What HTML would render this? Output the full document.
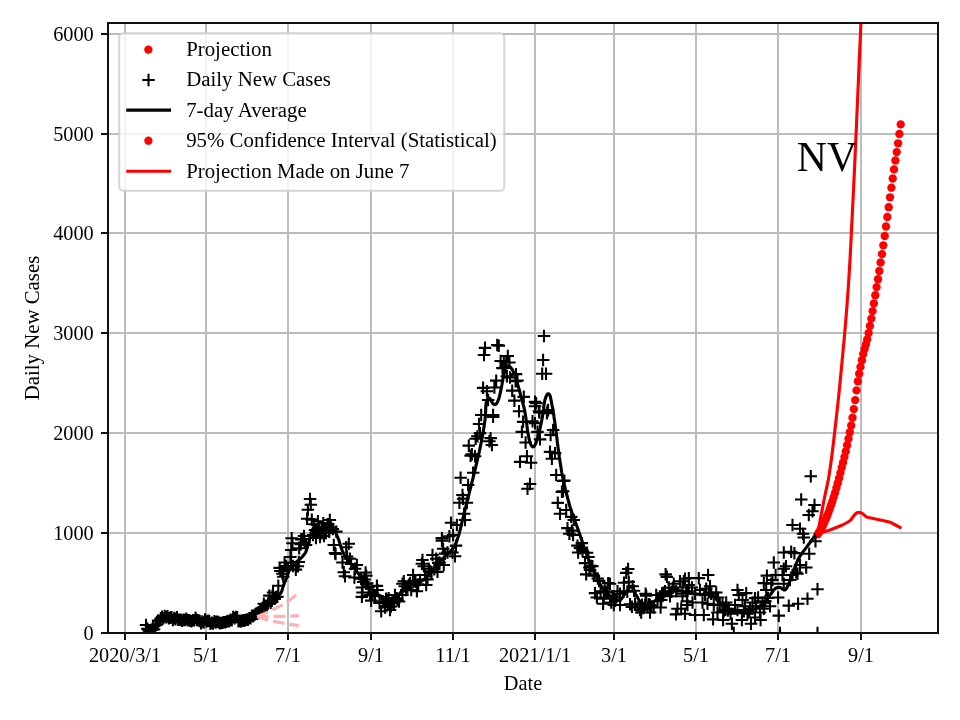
<!DOCTYPE html><html><head><meta charset="utf-8"><title>NV</title><style>html,body{margin:0;padding:0;background:#fff}svg{display:block}text{font-family:"Liberation Serif",serif;fill:#000}svg{will-change:transform;transform:translateZ(0)}</style></head><body>
<svg width="960" height="720" viewBox="0 0 960 720">
<rect width="960" height="720" fill="#fff"/>
<g stroke="#bcbcbc" stroke-width="2" fill="none">
<path d="M125 23V633"/>
<path d="M206 23V633"/>
<path d="M288 23V633"/>
<path d="M371 23V633"/>
<path d="M453 23V633"/>
<path d="M535 23V633"/>
<path d="M614 23V633"/>
<path d="M696 23V633"/>
<path d="M778 23V633"/>
<path d="M861 23V633"/>
<path d="M108 633H938"/>
<path d="M108 533H938"/>
<path d="M108 433H938"/>
<path d="M108 333H938"/>
<path d="M108 233H938"/>
<path d="M108 134H938"/>
<path d="M108 34H938"/>
</g>
<!--DATA-->
<defs><clipPath id="ax"><rect x="108" y="23" width="830" height="610"/></clipPath></defs>
<g clip-path="url(#ax)">
<g fill="#f00"><circle cx="817.6" cy="534.4" r="4.17"/><circle cx="819.0" cy="532.4" r="4.17"/><circle cx="820.3" cy="530.2" r="4.17"/><circle cx="821.7" cy="527.8" r="4.17"/><circle cx="823.0" cy="525.2" r="4.17"/><circle cx="824.3" cy="522.4" r="4.17"/><circle cx="825.7" cy="519.4" r="4.17"/><circle cx="827.0" cy="516.2" r="4.17"/><circle cx="828.4" cy="512.7" r="4.17"/><circle cx="829.7" cy="509.1" r="4.17"/><circle cx="831.0" cy="505.3" r="4.17"/><circle cx="832.4" cy="501.3" r="4.17"/><circle cx="833.7" cy="497.1" r="4.17"/><circle cx="835.1" cy="492.6" r="4.17"/><circle cx="836.4" cy="488.0" r="4.17"/><circle cx="837.7" cy="483.2" r="4.17"/><circle cx="839.1" cy="478.2" r="4.17"/><circle cx="840.4" cy="472.9" r="4.17"/><circle cx="841.8" cy="467.5" r="4.17"/><circle cx="843.1" cy="462.4" r="4.17"/><circle cx="844.4" cy="457.1" r="4.17"/><circle cx="845.8" cy="451.4" r="4.17"/><circle cx="847.1" cy="445.2" r="4.17"/><circle cx="848.5" cy="438.8" r="4.17"/><circle cx="849.8" cy="432.3" r="4.17"/><circle cx="851.2" cy="425.5" r="4.17"/><circle cx="852.5" cy="417.7" r="4.17"/><circle cx="853.8" cy="409.1" r="4.17"/><circle cx="855.2" cy="400.1" r="4.17"/><circle cx="856.5" cy="390.4" r="4.17"/><circle cx="857.9" cy="381.3" r="4.17"/><circle cx="859.2" cy="373.7" r="4.17"/><circle cx="860.5" cy="366.9" r="4.17"/><circle cx="861.9" cy="360.2" r="4.17"/><circle cx="863.2" cy="354.1" r="4.17"/><circle cx="864.6" cy="348.9" r="4.17"/><circle cx="865.9" cy="344.4" r="4.17"/><circle cx="867.2" cy="339.4" r="4.17"/><circle cx="868.6" cy="333.1" r="4.17"/><circle cx="869.9" cy="326.0" r="4.17"/><circle cx="871.3" cy="318.6" r="4.17"/><circle cx="872.6" cy="311.1" r="4.17"/><circle cx="873.9" cy="303.4" r="4.17"/><circle cx="875.3" cy="295.2" r="4.17"/><circle cx="876.6" cy="287.1" r="4.17"/><circle cx="878.0" cy="279.2" r="4.17"/><circle cx="879.3" cy="271.0" r="4.17"/><circle cx="880.6" cy="262.5" r="4.17"/><circle cx="882.0" cy="254.1" r="4.17"/><circle cx="883.3" cy="245.3" r="4.17"/><circle cx="884.7" cy="236.0" r="4.17"/><circle cx="886.0" cy="226.5" r="4.17"/><circle cx="887.3" cy="217.0" r="4.17"/><circle cx="888.7" cy="207.2" r="4.17"/><circle cx="890.0" cy="197.3" r="4.17"/><circle cx="891.4" cy="187.7" r="4.17"/><circle cx="892.7" cy="178.5" r="4.17"/><circle cx="894.0" cy="169.4" r="4.17"/><circle cx="895.4" cy="160.5" r="4.17"/><circle cx="896.7" cy="152.1" r="4.17"/><circle cx="898.1" cy="143.3" r="4.17"/><circle cx="899.4" cy="134.0" r="4.17"/><circle cx="900.7" cy="124.4" r="4.17"/></g>
<path d="M257.5 603.8h12.5M263.8 597.5v12.5M263.1 595.6h12.5M269.4 589.4v12.5M266.8 592.5h12.5M273.0 586.2v12.5M266.2 595.7h12.5M272.5 589.5v12.5M272.1 585.8h12.5M278.3 579.5v12.5M273.4 567.9h12.5M279.6 561.6v12.5M274.1 571.0h12.5M280.4 564.8v12.5M276.2 573.8h12.5M282.5 567.5v12.5M277.1 576.7h12.5M283.3 570.5v12.5M278.4 562.5h12.5M284.6 556.2v12.5M284.1 557.0h12.5M290.4 550.8v12.5M285.0 550.0h12.5M291.2 543.8v12.5M286.2 543.2h12.5M292.5 537.0v12.5M292.5 562.0h12.5M298.8 555.8v12.5M291.6 566.2h12.5M297.9 560.0v12.5M289.6 569.6h12.5M295.8 563.4v12.5M279.8 566.0h12.5M286.0 559.8v12.5M281.8 569.0h12.5M288.0 562.8v12.5M284.8 563.0h12.5M291.0 556.8v12.5M286.8 566.0h12.5M293.0 559.8v12.5M303.8 499.0h12.5M310.0 492.8v12.5M304.6 504.8h12.5M310.8 498.6v12.5M301.6 509.8h12.5M307.9 503.6v12.5M300.9 518.8h12.5M307.1 512.5v12.5M305.6 519.6h12.5M311.8 513.4v12.5M311.6 521.2h12.5M317.9 515.0v12.5M323.6 520.0h12.5M329.8 513.8v12.5M326.6 529.0h12.5M332.9 522.8v12.5M307.9 524.2h12.5M314.2 518.0v12.5M308.8 530.0h12.5M315.0 523.8v12.5M312.9 526.7h12.5M319.2 520.5v12.5M317.1 523.3h12.5M323.3 517.0v12.5M318.8 528.3h12.5M325.0 522.0v12.5M321.2 524.2h12.5M327.5 518.0v12.5M315.4 533.3h12.5M321.7 527.0v12.5M322.9 531.7h12.5M329.2 525.5v12.5M296.2 539.0h12.5M302.5 532.8v12.5M297.8 536.0h12.5M304.0 529.8v12.5M285.4 538.3h12.5M291.7 532.0v12.5M373.2 603.0h12.5M379.5 596.8v12.5M376.8 601.5h12.5M383.0 595.2v12.5M381.8 604.5h12.5M388.0 598.2v12.5M384.8 606.5h12.5M391.0 600.2v12.5M387.8 603.0h12.5M394.0 596.8v12.5M306.8 535.0h12.5M313.0 528.8v12.5M309.8 538.0h12.5M316.0 531.8v12.5M313.8 537.0h12.5M320.0 530.8v12.5M317.8 536.0h12.5M324.0 529.8v12.5M311.8 531.0h12.5M318.0 524.8v12.5M319.8 533.0h12.5M326.0 526.8v12.5M315.8 528.0h12.5M322.0 521.8v12.5M298.2 542.5h12.5M304.5 536.2v12.5M299.8 545.0h12.5M306.0 538.8v12.5M292.9 548.3h12.5M299.2 542.0v12.5M294.6 544.2h12.5M300.8 538.0v12.5M295.0 539.4h12.5M301.2 533.1v12.5M327.5 545.0h12.5M333.8 538.8v12.5M328.8 553.0h12.5M335.0 546.8v12.5M323.1 529.4h12.5M329.4 523.1v12.5M342.5 543.8h12.5M348.8 537.5v12.5M340.0 547.2h12.5M346.2 541.0v12.5M329.4 554.0h12.5M335.6 547.8v12.5M343.8 558.8h12.5M350.0 552.5v12.5M336.2 562.5h12.5M342.5 556.2v12.5M350.6 565.0h12.5M356.9 558.8v12.5M337.5 572.2h12.5M343.8 566.0v12.5M338.8 576.2h12.5M345.0 570.0v12.5M359.4 572.5h12.5M365.6 566.2v12.5M360.0 575.6h12.5M366.2 569.4v12.5M348.1 577.5h12.5M354.4 571.2v12.5M348.8 568.8h12.5M355.0 562.5v12.5M355.0 578.8h12.5M361.2 572.5v12.5M370.6 585.9h12.5M376.9 579.6v12.5M371.2 590.0h12.5M377.5 583.8v12.5M355.6 587.5h12.5M361.9 581.2v12.5M356.2 592.5h12.5M362.5 586.2v12.5M355.6 596.9h12.5M361.9 590.6v12.5M365.0 600.6h12.5M371.2 594.4v12.5M363.8 595.0h12.5M370.0 588.8v12.5M368.8 596.2h12.5M375.0 590.0v12.5M360.0 583.8h12.5M366.2 577.5v12.5M375.0 611.2h12.5M381.2 605.0v12.5M378.8 607.5h12.5M385.0 601.2v12.5M383.8 610.0h12.5M390.0 603.8v12.5M381.2 600.0h12.5M387.5 593.8v12.5M386.2 602.5h12.5M392.5 596.2v12.5M388.8 595.0h12.5M395.0 588.8v12.5M391.2 600.0h12.5M397.5 593.8v12.5M392.8 601.5h12.5M399.0 595.2v12.5M396.2 595.0h12.5M402.5 588.8v12.5M397.5 581.2h12.5M403.8 575.0v12.5M396.2 583.8h12.5M402.5 577.5v12.5M406.9 575.0h12.5M413.1 568.8v12.5M405.0 590.0h12.5M411.2 583.8v12.5M410.6 591.2h12.5M416.9 585.0v12.5M401.2 587.5h12.5M407.5 581.2v12.5M415.6 563.8h12.5M421.9 557.5v12.5M417.5 566.2h12.5M423.8 560.0v12.5M422.5 568.8h12.5M428.8 562.5v12.5M418.8 575.0h12.5M425.0 568.8v12.5M421.2 579.4h12.5M427.5 573.1v12.5M420.0 585.0h12.5M426.2 578.8v12.5M413.8 580.0h12.5M420.0 573.8v12.5M426.2 555.0h12.5M432.5 548.8v12.5M430.0 558.8h12.5M436.2 552.5v12.5M431.2 571.9h12.5M437.5 565.6v12.5M435.6 540.6h12.5M441.9 534.4v12.5M436.9 548.8h12.5M443.1 542.5v12.5M437.5 565.0h12.5M443.8 558.8v12.5M454.4 477.8h12.5M460.6 471.5v12.5M466.9 472.8h12.5M473.1 466.5v12.5M461.9 485.0h12.5M468.1 478.8v12.5M456.9 498.8h12.5M463.1 492.5v12.5M453.1 502.8h12.5M459.4 496.5v12.5M460.6 502.8h12.5M466.9 496.5v12.5M457.8 513.8h12.5M464.0 507.5v12.5M458.8 520.0h12.5M465.0 513.8v12.5M444.8 522.8h12.5M451.0 516.5v12.5M450.6 525.0h12.5M456.9 518.8v12.5M446.9 535.0h12.5M453.1 528.8v12.5M443.1 536.2h12.5M449.4 530.0v12.5M435.6 538.1h12.5M441.9 531.9v12.5M449.8 545.6h12.5M456.0 539.4v12.5M441.2 552.5h12.5M447.5 546.2v12.5M446.2 552.5h12.5M452.5 546.2v12.5M448.8 556.2h12.5M455.0 550.0v12.5M521.2 488.8h12.5M527.5 482.5v12.5M416.2 560.0h12.5M422.5 553.8v12.5M537.8 336.0h12.5M544.0 329.8v12.5M536.9 360.0h12.5M543.1 353.8v12.5M536.0 373.8h12.5M542.2 367.5v12.5M539.8 373.8h12.5M546.0 367.5v12.5M478.8 347.9h12.5M485.0 341.6v12.5M477.8 355.0h12.5M484.0 348.8v12.5M491.0 345.0h12.5M497.2 338.8v12.5M492.5 345.6h12.5M498.8 339.4v12.5M501.5 356.0h12.5M507.8 349.8v12.5M494.4 361.0h12.5M500.6 354.8v12.5M497.5 361.2h12.5M503.8 355.0v12.5M500.0 362.5h12.5M506.2 356.2v12.5M503.1 362.5h12.5M509.4 356.2v12.5M498.8 367.5h12.5M505.0 361.2v12.5M496.2 368.1h12.5M502.5 361.9v12.5M509.8 374.1h12.5M516.0 367.9v12.5M500.6 376.2h12.5M506.9 370.0v12.5M503.8 377.5h12.5M510.0 371.2v12.5M490.0 380.6h12.5M496.2 374.4v12.5M511.2 380.6h12.5M517.5 374.4v12.5M509.4 381.2h12.5M515.6 375.0v12.5M476.9 387.9h12.5M483.1 381.6v12.5M480.6 391.2h12.5M486.9 385.0v12.5M488.1 387.5h12.5M494.4 381.2v12.5M506.0 390.6h12.5M512.2 384.4v12.5M517.5 396.9h12.5M523.8 390.6v12.5M481.9 400.0h12.5M488.1 393.8v12.5M508.1 400.6h12.5M514.4 394.4v12.5M528.8 401.9h12.5M535.0 395.6v12.5M530.0 403.1h12.5M536.2 396.9v12.5M512.8 411.2h12.5M519.0 405.0v12.5M475.0 415.0h12.5M481.2 408.8v12.5M486.9 415.0h12.5M493.1 408.8v12.5M532.8 411.2h12.5M539.0 405.0v12.5M541.2 411.2h12.5M547.5 405.0v12.5M486.9 416.9h12.5M493.1 410.6v12.5M472.8 424.0h12.5M479.0 417.8v12.5M471.2 436.2h12.5M477.5 430.0v12.5M473.8 433.1h12.5M480.0 426.9v12.5M484.4 438.1h12.5M490.6 431.9v12.5M483.1 441.2h12.5M489.4 435.0v12.5M485.6 445.0h12.5M491.9 438.8v12.5M469.4 438.8h12.5M475.6 432.5v12.5M462.5 445.6h12.5M468.8 439.4v12.5M465.6 454.4h12.5M471.9 448.1v12.5M464.4 455.6h12.5M470.6 449.4v12.5M468.8 456.2h12.5M475.0 450.0v12.5M456.2 495.0h12.5M462.5 488.8v12.5M516.9 421.9h12.5M523.1 415.6v12.5M526.2 421.2h12.5M532.5 415.0v12.5M528.8 423.1h12.5M535.0 416.9v12.5M515.6 431.9h12.5M521.9 425.6v12.5M531.2 431.9h12.5M537.5 425.6v12.5M519.4 442.5h12.5M525.6 436.2v12.5M533.8 439.4h12.5M540.0 433.1v12.5M544.4 435.0h12.5M550.6 428.8v12.5M546.9 430.0h12.5M553.1 423.8v12.5M520.6 456.2h12.5M526.9 450.0v12.5M513.8 461.9h12.5M520.0 455.6v12.5M524.8 462.8h12.5M531.0 456.5v12.5M543.8 451.9h12.5M550.0 445.6v12.5M548.8 453.1h12.5M555.0 446.9v12.5M545.6 458.8h12.5M551.9 452.5v12.5M550.0 475.0h12.5M556.2 468.8v12.5M558.1 480.6h12.5M564.4 474.4v12.5M523.8 484.0h12.5M530.0 477.8v12.5M556.9 491.2h12.5M563.1 485.0v12.5M533.1 412.5h12.5M539.4 406.2v12.5M540.6 413.1h12.5M546.9 406.9v12.5M528.8 406.2h12.5M535.0 400.0v12.5M541.9 410.0h12.5M548.1 403.8v12.5M556.9 481.0h12.5M563.1 474.8v12.5M555.6 491.9h12.5M561.9 485.6v12.5M551.5 502.9h12.5M557.8 496.6v12.5M560.0 510.0h12.5M566.2 503.8v12.5M553.8 513.8h12.5M560.0 507.5v12.5M565.0 516.9h12.5M571.2 510.6v12.5M567.5 520.0h12.5M573.8 513.8v12.5M561.2 528.1h12.5M567.5 521.9v12.5M565.6 530.6h12.5M571.9 524.4v12.5M563.1 533.8h12.5M569.4 527.5v12.5M566.9 535.0h12.5M573.1 528.8v12.5M575.6 543.1h12.5M581.9 536.9v12.5M571.2 545.6h12.5M577.5 539.4v12.5M576.2 550.6h12.5M582.5 544.4v12.5M571.9 552.5h12.5M578.1 546.2v12.5M573.8 548.1h12.5M580.0 541.9v12.5M578.8 563.1h12.5M585.0 556.9v12.5M586.2 566.2h12.5M592.5 560.0v12.5M583.1 567.5h12.5M589.4 561.2v12.5M621.9 569.0h12.5M628.1 562.8v12.5M583.8 570.0h12.5M590.0 563.8v12.5M580.0 574.4h12.5M586.2 568.1v12.5M587.5 575.6h12.5M593.8 569.4v12.5M620.0 572.9h12.5M626.2 566.6v12.5M622.5 581.9h12.5M628.8 575.6v12.5M617.8 582.8h12.5M624.0 576.5v12.5M601.9 583.1h12.5M608.1 576.9v12.5M603.8 583.8h12.5M610.0 577.5v12.5M588.8 593.1h12.5M595.0 586.9v12.5M590.6 597.5h12.5M596.9 591.2v12.5M597.5 598.8h12.5M603.8 592.5v12.5M596.9 603.8h12.5M603.1 597.5v12.5M601.2 592.5h12.5M607.5 586.2v12.5M594.4 591.2h12.5M600.6 585.0v12.5M607.5 597.5h12.5M613.8 591.2v12.5M607.5 605.0h12.5M613.8 598.8v12.5M613.8 593.8h12.5M620.0 587.5v12.5M613.8 605.0h12.5M620.0 598.8v12.5M611.2 591.2h12.5M617.5 585.0v12.5M605.0 602.5h12.5M611.2 596.2v12.5M617.5 591.2h12.5M623.8 585.0v12.5M659.4 574.4h12.5M665.6 568.1v12.5M660.6 576.9h12.5M666.9 570.6v12.5M639.4 593.8h12.5M645.6 587.5v12.5M640.0 595.6h12.5M646.2 589.4v12.5M650.0 595.0h12.5M656.2 588.8v12.5M623.8 604.4h12.5M630.0 598.1v12.5M625.6 606.9h12.5M631.9 600.6v12.5M628.8 603.8h12.5M635.0 597.5v12.5M631.2 607.5h12.5M637.5 601.2v12.5M635.0 612.5h12.5M641.2 606.2v12.5M633.8 610.0h12.5M640.0 603.8v12.5M638.8 605.0h12.5M645.0 598.8v12.5M643.8 612.5h12.5M650.0 606.2v12.5M643.8 605.0h12.5M650.0 598.8v12.5M647.5 607.5h12.5M653.8 601.2v12.5M651.2 601.2h12.5M657.5 595.0v12.5M654.4 607.5h12.5M660.6 601.2v12.5M655.0 600.0h12.5M661.2 593.8v12.5M658.8 591.2h12.5M665.0 585.0v12.5M662.5 587.5h12.5M668.8 581.2v12.5M663.8 596.2h12.5M670.0 590.0v12.5M667.5 583.8h12.5M673.8 577.5v12.5M670.0 591.2h12.5M676.2 585.0v12.5M673.8 581.2h12.5M680.0 575.0v12.5M676.2 587.5h12.5M682.5 581.2v12.5M678.8 578.8h12.5M685.0 572.5v12.5M681.2 591.2h12.5M687.5 585.0v12.5M682.5 585.0h12.5M688.8 578.8v12.5M669.8 614.4h12.5M676.0 608.1v12.5M678.8 613.8h12.5M685.0 607.5v12.5M671.2 608.8h12.5M677.5 602.5v12.5M681.2 605.0h12.5M687.5 598.8v12.5M676.2 596.2h12.5M682.5 590.0v12.5M701.9 575.0h12.5M708.1 568.8v12.5M682.5 578.1h12.5M688.8 571.9v12.5M692.5 578.1h12.5M698.8 571.9v12.5M677.5 581.2h12.5M683.8 575.0v12.5M703.8 586.2h12.5M710.0 580.0v12.5M685.6 587.5h12.5M691.9 581.2v12.5M693.8 590.0h12.5M700.0 583.8v12.5M680.0 591.2h12.5M686.2 585.0v12.5M700.0 588.8h12.5M706.2 582.5v12.5M710.0 592.5h12.5M716.2 586.2v12.5M676.2 593.8h12.5M682.5 587.5v12.5M688.8 593.8h12.5M695.0 587.5v12.5M705.0 593.8h12.5M711.2 587.5v12.5M711.9 597.5h12.5M718.1 591.2v12.5M680.6 601.2h12.5M686.9 595.0v12.5M686.2 602.5h12.5M692.5 596.2v12.5M696.2 602.5h12.5M702.5 596.2v12.5M701.2 603.8h12.5M707.5 597.5v12.5M707.5 605.0h12.5M713.8 598.8v12.5M675.0 608.8h12.5M681.2 602.5v12.5M688.8 615.0h12.5M695.0 608.8v12.5M697.5 615.0h12.5M703.8 608.8v12.5M706.9 619.4h12.5M713.1 613.1v12.5M711.2 612.5h12.5M717.5 606.2v12.5M716.9 620.0h12.5M723.1 613.8v12.5M720.0 602.5h12.5M726.2 596.2v12.5M716.2 605.0h12.5M722.5 598.8v12.5M722.5 608.8h12.5M728.8 602.5v12.5M717.5 611.2h12.5M723.8 605.0v12.5M725.6 623.8h12.5M731.9 617.5v12.5M727.5 633.0h12.5M733.8 626.8v12.5M731.2 590.0h12.5M737.5 583.8v12.5M732.5 595.0h12.5M738.8 588.8v12.5M740.0 593.1h12.5M746.2 586.9v12.5M736.2 600.0h12.5M742.5 593.8v12.5M728.8 605.0h12.5M735.0 598.8v12.5M731.2 610.0h12.5M737.5 603.8v12.5M738.8 606.2h12.5M745.0 600.0v12.5M735.6 620.0h12.5M741.9 613.8v12.5M743.8 608.8h12.5M750.0 602.5v12.5M741.2 613.8h12.5M747.5 607.5v12.5M744.8 623.8h12.5M751.0 617.5v12.5M746.2 602.5h12.5M752.5 596.2v12.5M748.8 598.1h12.5M755.0 591.9v12.5M751.9 597.5h12.5M758.1 591.2v12.5M750.0 606.2h12.5M756.2 600.0v12.5M753.8 612.5h12.5M760.0 606.2v12.5M754.4 620.0h12.5M760.6 613.8v12.5M748.8 617.5h12.5M755.0 611.2v12.5M757.5 608.8h12.5M763.8 602.5v12.5M756.2 602.5h12.5M762.5 596.2v12.5M763.8 606.2h12.5M770.0 600.0v12.5M760.6 575.6h12.5M766.9 569.4v12.5M757.5 583.1h12.5M763.8 576.9v12.5M767.5 562.5h12.5M773.8 556.2v12.5M760.0 590.0h12.5M766.2 583.8v12.5M766.2 580.0h12.5M772.5 573.8v12.5M765.0 583.8h12.5M771.2 577.5v12.5M769.4 575.0h12.5M775.6 568.8v12.5M771.9 597.5h12.5M778.1 591.2v12.5M772.5 615.6h12.5M778.8 609.4v12.5M773.8 633.0h12.5M780.0 626.8v12.5M779.8 566.2h12.5M786.0 560.0v12.5M777.5 568.8h12.5M783.8 562.5v12.5M776.2 575.0h12.5M782.5 568.8v12.5M782.5 605.6h12.5M788.8 599.4v12.5M791.9 603.8h12.5M798.1 597.5v12.5M777.5 552.5h12.5M783.8 546.2v12.5M785.0 551.9h12.5M791.2 545.6v12.5M788.1 553.1h12.5M794.4 546.9v12.5M791.2 573.8h12.5M797.5 567.5v12.5M786.2 575.0h12.5M792.5 568.8v12.5M777.5 583.8h12.5M783.8 577.5v12.5M783.8 580.0h12.5M790.0 573.8v12.5M804.5 476.2h12.5M810.8 470.0v12.5M795.0 499.5h12.5M801.2 493.2v12.5M808.2 505.0h12.5M814.5 498.8v12.5M806.2 511.2h12.5M812.5 505.0v12.5M802.5 515.0h12.5M808.8 508.8v12.5M786.2 525.0h12.5M792.5 518.8v12.5M793.8 528.8h12.5M800.0 522.5v12.5M796.8 533.8h12.5M803.0 527.5v12.5M797.5 537.5h12.5M803.8 531.2v12.5M809.2 541.2h12.5M815.5 535.0v12.5M803.0 553.8h12.5M809.2 547.5v12.5M800.0 567.5h12.5M806.2 561.2v12.5M793.8 565.0h12.5M800.0 558.8v12.5M790.0 572.5h12.5M796.2 566.2v12.5M811.2 589.2h12.5M817.5 583.0v12.5M801.2 598.8h12.5M807.5 592.5v12.5M811.2 633.0h12.5M817.5 626.8v12.5M139.8 625.0h12.5M146.0 618.8v12.5M141.1 628.8h12.5M147.4 622.5v12.5M142.5 630.7h12.5M148.7 624.4v12.5M143.8 631.7h12.5M150.1 625.4v12.5M145.2 629.8h12.5M151.4 623.5v12.5M146.5 627.8h12.5M152.8 621.6v12.5M147.8 629.5h12.5M154.1 623.3v12.5M149.2 625.0h12.5M155.4 618.7v12.5M150.5 624.6h12.5M156.8 618.4v12.5M151.9 620.6h12.5M158.1 614.3v12.5M153.2 621.0h12.5M159.5 614.8v12.5M154.5 618.2h12.5M160.8 611.9v12.5M155.9 616.7h12.5M162.1 610.5v12.5M157.2 618.2h12.5M163.5 612.0v12.5M158.6 616.0h12.5M164.8 609.8v12.5M159.9 617.4h12.5M166.2 611.1v12.5M161.2 616.4h12.5M167.5 610.1v12.5M162.6 618.3h12.5M168.8 612.1v12.5M163.9 617.8h12.5M170.2 611.6v12.5M165.3 617.4h12.5M171.5 611.1v12.5M166.6 619.9h12.5M172.9 613.7v12.5M167.9 617.9h12.5M174.2 611.7v12.5M169.3 619.2h12.5M175.5 612.9v12.5M170.6 617.3h12.5M176.9 611.1v12.5M172.0 619.7h12.5M178.2 613.5v12.5M173.3 619.9h12.5M179.6 613.6v12.5M174.7 619.8h12.5M180.9 613.5v12.5M176.0 620.6h12.5M182.2 614.4v12.5M177.3 619.6h12.5M183.6 613.4v12.5M178.7 620.0h12.5M184.9 613.8v12.5M180.0 618.8h12.5M186.3 612.5v12.5M181.4 620.2h12.5M187.6 613.9v12.5M182.7 620.3h12.5M188.9 614.1v12.5M184.0 620.9h12.5M190.3 614.6v12.5M185.4 621.3h12.5M191.6 615.0v12.5M186.7 620.1h12.5M193.0 613.9v12.5M188.1 620.2h12.5M194.3 613.9v12.5M189.4 617.8h12.5M195.6 611.5v12.5M190.7 619.9h12.5M197.0 613.7v12.5M192.1 620.2h12.5M198.3 613.9v12.5M193.4 620.9h12.5M199.7 614.7v12.5M194.8 623.3h12.5M201.0 617.1v12.5M196.1 621.4h12.5M202.3 615.2v12.5M197.4 622.6h12.5M203.7 616.3v12.5M198.8 619.5h12.5M205.0 613.3v12.5M200.1 621.5h12.5M206.4 615.3v12.5M201.5 620.8h12.5M207.7 614.5v12.5M202.8 621.0h12.5M209.1 614.8v12.5M204.1 623.8h12.5M210.4 617.6v12.5M205.5 622.9h12.5M211.7 616.6v12.5M206.8 623.6h12.5M213.1 617.3v12.5M208.2 621.2h12.5M214.4 615.0v12.5M209.5 622.6h12.5M215.8 616.3v12.5M210.8 621.6h12.5M217.1 615.4v12.5M212.2 622.0h12.5M218.4 615.8v12.5M213.5 623.2h12.5M219.8 617.0v12.5M214.9 622.9h12.5M221.1 616.7v12.5M216.2 622.7h12.5M222.5 616.5v12.5M217.5 622.2h12.5M223.8 616.0v12.5M218.9 622.1h12.5M225.1 615.9v12.5M220.2 621.6h12.5M226.5 615.4v12.5M221.6 621.0h12.5M227.8 614.7v12.5M222.9 621.3h12.5M229.2 615.1v12.5M224.2 619.7h12.5M230.5 613.4v12.5M225.6 620.2h12.5M231.8 613.9v12.5M226.9 617.0h12.5M233.2 610.8v12.5M228.3 618.4h12.5M234.5 612.1v12.5M229.6 617.0h12.5M235.9 610.8v12.5M231.0 617.3h12.5M237.2 611.1v12.5M232.3 621.1h12.5M238.5 614.9v12.5M233.6 620.7h12.5M239.9 614.4v12.5M235.0 621.5h12.5M241.2 615.2v12.5M236.3 620.1h12.5M242.6 613.9v12.5M237.7 620.8h12.5M243.9 614.5v12.5M239.0 620.2h12.5M245.2 614.0v12.5M240.3 619.5h12.5M246.6 613.3v12.5M241.7 619.8h12.5M247.9 613.5v12.5M243.0 618.1h12.5M249.3 611.9v12.5M244.4 618.2h12.5M250.6 612.0v12.5M245.7 615.7h12.5M251.9 609.4v12.5M247.0 616.2h12.5M253.3 610.0v12.5M248.4 614.6h12.5M254.6 608.4v12.5M249.7 613.7h12.5M256.0 607.5v12.5M251.1 613.7h12.5M257.3 607.5v12.5M252.4 612.4h12.5M258.6 606.1v12.5M253.7 611.5h12.5M260.0 605.2v12.5M255.1 609.0h12.5M261.3 602.8v12.5M256.4 607.8h12.5M262.7 601.5v12.5M259.1 605.7h12.5M265.4 599.4v12.5M260.4 605.9h12.5M266.7 599.7v12.5M261.8 603.6h12.5M268.0 597.3v12.5M264.5 602.6h12.5M270.7 596.4v12.5M268.5 598.9h12.5M274.7 592.6v12.5M269.8 596.9h12.5M276.1 590.7v12.5M271.2 596.7h12.5M277.4 590.5v12.5M322.1 524.6h12.5M328.4 518.3v12.5M324.8 527.4h12.5M331.0 521.2v12.5M330.1 531.6h12.5M336.4 525.4v12.5M340.9 556.5h12.5M347.1 550.2v12.5M344.9 564.0h12.5M351.1 557.8v12.5M357.0 582.0h12.5M363.2 575.7v12.5M358.3 579.5h12.5M364.5 573.2v12.5M361.0 583.2h12.5M367.2 576.9v12.5M362.3 587.1h12.5M368.6 580.9v12.5M366.3 593.1h12.5M372.6 586.9v12.5M379.7 598.8h12.5M386.0 592.6v12.5M382.4 598.2h12.5M388.7 592.0v12.5M390.5 598.4h12.5M396.7 592.1v12.5M398.5 586.2h12.5M404.8 580.0v12.5M399.9 590.1h12.5M406.1 583.8v12.5M402.5 584.7h12.5M408.8 578.4v12.5M403.9 582.9h12.5M410.1 576.7v12.5M407.9 580.9h12.5M414.1 574.7v12.5M409.2 581.8h12.5M415.5 575.6v12.5M411.9 584.4h12.5M418.2 578.2v12.5M424.0 571.3h12.5M430.2 565.1v12.5M425.3 572.1h12.5M431.6 565.9v12.5M428.0 569.2h12.5M434.3 563.0v12.5M432.0 563.0h12.5M438.3 556.7v12.5M433.4 562.5h12.5M439.6 556.3v12.5M438.7 553.6h12.5M445.0 547.4v12.5M580.8 552.8h12.5M587.1 546.6v12.5M582.2 557.0h12.5M588.4 550.8v12.5M584.8 565.9h12.5M591.1 559.7v12.5M591.5 578.5h12.5M597.8 572.3v12.5M592.9 580.9h12.5M599.1 574.7v12.5M598.2 591.2h12.5M604.5 585.0v12.5M599.6 591.9h12.5M605.8 585.6v12.5M606.3 596.3h12.5M612.5 590.0v12.5M609.0 600.7h12.5M615.2 594.4v12.5M621.0 591.6h12.5M627.3 585.4v12.5M626.4 586.2h12.5M632.6 579.9v12.5M627.7 590.7h12.5M634.0 584.5v12.5M635.8 604.8h12.5M642.0 598.6v12.5M637.1 608.0h12.5M643.4 601.8v12.5M641.1 607.5h12.5M647.4 601.3v12.5M642.5 604.4h12.5M648.7 598.1v12.5M645.2 606.9h12.5M651.4 600.6v12.5M655.9 593.2h12.5M662.1 587.0v12.5M657.2 594.2h12.5M663.5 587.9v12.5M665.3 591.8h12.5M671.5 585.5v12.5M666.6 587.9h12.5M672.9 581.6v12.5M698.8 594.6h12.5M705.0 588.4v12.5M702.8 592.3h12.5M709.1 586.0v12.5M713.5 604.5h12.5M719.8 598.3v12.5M718.9 609.9h12.5M725.1 603.6v12.5M721.6 610.6h12.5M727.8 604.3v12.5M724.3 613.7h12.5M730.5 607.4v12.5M737.7 611.2h12.5M743.9 604.9v12.5M743.0 612.1h12.5M749.3 605.9v12.5M759.1 601.3h12.5M765.4 595.0v12.5M761.8 597.9h12.5M768.0 591.7v12.5" stroke="#000" stroke-width="2.08" fill="none"/>
<path d="M146.0 625.5L146.3 625.9L146.6 626.5L147.1 627.1L147.5 627.8L148.0 628.5L148.5 629.0L149.0 629.4L149.5 629.9L150.0 630.2L150.5 630.6L151.0 630.8L151.5 631.0L152.0 631.1L152.5 631.1L153.0 631.1L153.5 631.0L154.0 630.8L154.5 630.5L155.0 630.1L155.5 629.5L156.0 628.8L156.5 628.1L157.0 627.3L157.5 626.5L158.0 625.7L158.4 624.7L158.9 623.8L159.4 622.8L159.9 621.9L160.5 621.0L161.2 620.1L161.9 619.2L162.6 618.4L163.4 617.6L164.2 616.9L165.0 616.5L165.8 616.3L166.6 616.3L167.4 616.4L168.2 616.6L169.1 616.8L170.0 617.0L170.9 617.1L171.9 617.3L172.9 617.4L173.9 617.6L174.9 617.8L176.0 618.0L177.1 618.2L178.3 618.5L179.4 618.7L180.6 619.0L181.8 619.2L183.0 619.5L184.2 619.8L185.4 620.1L186.6 620.4L187.7 620.6L188.9 620.9L190.0 621.0L191.1 621.0L192.1 620.9L193.1 620.8L194.1 620.6L195.1 620.5L196.0 620.5L196.8 620.6L197.6 620.9L198.2 621.2L199.0 621.5L199.9 621.8L201.0 622.0L202.4 622.2L204.0 622.4L205.8 622.6L207.6 622.8L209.3 622.9L211.0 623.0L212.6 623.1L214.1 623.1L215.7 623.2L217.1 623.1L218.6 623.1L220.0 623.0L221.3 622.8L222.6 622.6L223.8 622.3L225.1 622.1L226.3 621.8L227.5 621.5L228.8 621.2L230.1 620.9L231.4 620.6L232.7 620.4L233.9 620.1L235.0 620.0L235.9 620.0L236.8 620.2L237.5 620.4L238.2 620.6L239.1 620.7L240.0 620.5L241.1 620.1L242.3 619.4L243.6 618.6L244.9 617.8L246.2 617.0L247.5 616.2L248.7 615.6L249.8 615.1L250.9 614.6L252.1 614.0L253.5 613.3L255.0 612.5L256.8 611.5L258.8 610.4L260.9 609.2L263.1 607.9L265.4 606.5L267.5 605.0L269.7 603.3L272.0 601.5L274.3 599.5L276.5 597.6L278.4 595.7L280.0 594.0L281.1 592.5L281.8 591.1L282.2 589.7L282.5 588.4L282.9 587.1L283.3 585.8L283.9 584.4L284.4 583.0L285.0 581.7L285.6 580.3L286.1 578.9L286.7 577.5L287.2 576.1L287.7 574.6L288.2 573.1L288.8 571.7L289.4 570.3L290.0 569.0L290.7 567.8L291.5 566.7L292.4 565.7L293.3 564.8L294.1 563.9L295.0 563.0L295.8 562.2L296.7 561.6L297.5 561.0L298.3 560.4L299.2 559.7L300.0 559.0L300.9 558.2L301.8 557.3L302.7 556.3L303.5 555.3L304.3 554.3L305.0 553.3L305.6 552.2L306.1 551.1L306.5 550.0L306.8 548.8L307.2 547.7L307.5 546.7L307.8 545.8L308.0 545.1L308.3 544.4L308.5 543.6L308.7 542.8L309.0 541.7L309.3 540.4L309.6 538.9L310.0 537.2L310.4 535.6L310.8 534.0L311.2 532.5L311.8 531.1L312.4 529.7L313.1 528.4L313.8 527.2L314.4 526.2L315.0 525.5L315.5 525.2L316.0 525.2L316.5 525.4L316.9 525.8L317.4 526.2L318.0 526.5L318.7 526.8L319.4 527.2L320.2 527.6L321.0 528.0L321.8 528.3L322.5 528.5L323.1 528.5L323.7 528.4L324.3 528.1L324.8 527.9L325.4 527.6L326.0 527.5L326.6 527.4L327.3 527.4L328.0 527.3L328.7 527.4L329.4 527.4L330.0 527.5L330.6 527.7L331.1 527.9L331.6 528.1L332.1 528.4L332.6 528.7L333.0 529.0L333.4 529.3L333.7 529.5L334.0 529.7L334.2 530.0L334.6 530.5L335.0 531.2L335.5 532.3L336.1 533.6L336.8 535.1L337.4 536.7L338.1 538.3L338.8 540.0L339.3 541.7L339.9 543.6L340.5 545.5L341.1 547.5L341.7 549.4L342.5 551.2L343.4 553.0L344.3 554.6L345.3 556.2L346.4 557.9L347.5 559.5L348.8 561.2L350.1 563.1L351.5 564.9L353.0 566.8L354.5 568.7L356.0 570.6L357.5 572.5L359.0 574.4L360.4 576.3L361.9 578.3L363.3 580.2L364.8 582.0L366.2 583.8L367.7 585.4L369.2 587.0L370.6 588.5L372.1 590.0L373.5 591.3L375.0 592.5L376.5 593.6L378.0 594.6L379.5 595.5L381.0 596.2L382.4 596.9L383.8 597.5L384.9 598.0L386.0 598.4L387.0 598.7L387.9 598.8L388.9 598.9L390.0 598.8L391.2 598.4L392.4 598.0L393.7 597.3L395.0 596.6L396.2 595.8L397.5 595.0L398.8 594.1L400.0 593.1L401.2 592.0L402.5 590.8L403.8 589.7L405.0 588.8L406.2 587.8L407.5 586.9L408.8 586.0L410.0 585.1L411.2 584.4L412.5 583.8L413.8 583.3L415.0 583.0L416.2 582.9L417.5 582.7L418.8 582.4L420.0 581.9L421.2 581.2L422.5 580.4L423.8 579.5L425.0 578.5L426.2 577.4L427.5 576.2L428.7 575.0L429.9 573.7L431.1 572.2L432.3 570.7L433.6 569.1L435.0 567.5L436.5 565.7L438.2 563.8L439.9 561.9L441.7 559.9L443.4 558.0L445.0 556.2L446.6 554.7L448.1 553.3L449.7 552.0L451.2 550.6L452.5 549.1L453.8 547.5L454.8 545.7L455.7 543.7L456.6 541.6L457.3 539.5L458.0 537.3L458.8 535.0L459.4 532.6L460.1 530.2L460.7 527.7L461.3 525.1L461.9 522.5L462.5 520.0L463.1 517.6L463.7 515.2L464.3 512.8L464.9 510.4L465.6 507.8L466.2 505.0L467.0 501.9L467.9 498.5L468.8 495.0L469.6 491.5L470.5 488.1L471.2 485.0L471.9 482.4L472.5 480.1L473.0 478.0L473.6 475.7L474.2 473.2L475.0 470.0L475.9 466.1L477.0 461.6L478.1 456.7L479.3 451.8L480.3 446.9L481.2 442.5L482.0 438.4L482.8 434.4L483.4 430.6L484.0 426.9L484.5 423.4L485.0 420.0L485.3 416.6L485.5 413.3L485.7 410.1L485.8 407.2L486.0 404.6L486.2 402.5L486.7 400.9L487.2 399.7L487.7 398.9L488.3 398.4L488.8 398.2L489.4 398.1L489.9 398.5L490.4 399.2L490.9 400.3L491.5 401.4L492.0 402.4L492.5 403.1L493.0 403.6L493.5 404.1L494.1 404.4L494.6 404.6L495.1 404.6L495.6 404.4L496.1 403.9L496.7 403.3L497.2 402.5L497.7 401.5L498.2 400.2L498.8 398.8L499.3 396.9L499.8 394.8L500.4 392.4L500.9 389.9L501.4 387.4L501.9 385.0L502.3 382.6L502.8 380.1L503.2 377.6L503.6 375.2L504.0 373.0L504.4 371.2L504.8 369.8L505.2 368.7L505.6 367.9L506.0 367.2L506.4 366.7L506.9 366.2L507.4 366.0L507.8 365.9L508.4 365.9L508.9 366.1L509.4 366.4L510.0 366.9L510.6 367.5L511.2 368.2L511.8 369.0L512.5 370.0L513.1 371.2L513.8 372.5L514.4 374.0L515.0 375.7L515.6 377.6L516.2 379.6L516.9 381.7L517.5 383.8L518.1 385.9L518.8 388.1L519.4 390.4L520.0 392.7L520.6 395.1L521.2 397.5L521.9 399.8L522.5 402.0L523.1 404.3L523.8 406.7L524.4 409.4L525.0 412.5L525.6 416.3L526.3 420.7L526.9 425.4L527.5 430.0L528.2 434.2L528.8 437.5L529.3 440.0L529.8 442.0L530.4 443.5L530.9 444.7L531.4 445.6L531.9 446.2L532.4 446.7L532.9 446.9L533.4 446.9L533.9 446.5L534.4 445.9L535.0 445.0L535.6 443.8L536.2 442.2L536.8 440.4L537.5 438.3L538.1 436.1L538.8 433.8L539.4 431.2L540.1 428.2L540.7 425.2L541.4 422.0L542.0 419.0L542.5 416.2L542.9 413.7L543.3 411.1L543.6 408.7L543.8 406.4L544.1 404.3L544.4 402.5L544.7 401.0L545.0 399.7L545.3 398.7L545.6 397.8L545.9 397.0L546.2 396.2L546.6 395.6L546.9 395.0L547.2 394.5L547.5 394.1L547.8 393.9L548.1 393.8L548.4 393.8L548.8 393.9L549.1 394.1L549.4 394.5L549.7 395.0L550.0 395.6L550.3 396.5L550.5 397.5L550.8 398.6L551.0 399.9L551.2 401.2L551.5 402.5L551.8 403.8L552.0 405.1L552.3 406.5L552.6 408.0L552.8 409.6L553.1 411.2L553.4 412.9L553.7 414.5L553.9 416.2L554.2 418.2L554.6 420.7L555.0 423.8L555.5 427.7L556.1 432.3L556.8 437.4L557.4 442.7L558.1 447.8L558.8 452.5L559.3 456.7L559.9 460.7L560.5 464.5L561.1 468.3L561.7 472.2L562.5 476.2L563.4 480.6L564.4 485.2L565.5 489.9L566.7 494.5L567.8 498.7L568.8 502.5L569.6 505.6L570.5 508.2L571.2 510.5L572.0 512.7L572.9 515.0L573.8 517.5L574.7 520.3L575.8 523.2L576.9 526.2L578.0 529.3L579.0 532.2L580.0 535.0L580.9 537.7L581.8 540.3L582.6 542.8L583.4 545.3L584.2 547.7L585.0 550.0L585.8 552.3L586.7 554.4L587.5 556.6L588.3 558.6L589.2 560.6L590.0 562.5L590.8 564.3L591.6 565.9L592.4 567.4L593.2 569.0L594.1 570.6L595.0 572.5L596.0 574.6L597.0 577.0L598.0 579.5L599.1 582.0L600.2 584.3L601.2 586.2L602.3 587.9L603.3 589.3L604.4 590.6L605.4 591.7L606.5 592.8L607.5 593.8L608.5 594.7L609.6 595.5L610.6 596.3L611.7 597.0L612.7 597.6L613.8 598.1L614.8 598.7L615.9 599.2L617.0 599.7L618.0 600.1L619.0 600.2L620.0 600.0L620.9 599.4L621.8 598.5L622.6 597.4L623.4 596.2L624.2 594.9L625.0 593.8L625.9 592.6L626.8 591.2L627.7 589.9L628.5 588.6L629.3 587.6L630.0 586.9L630.5 586.5L631.0 586.3L631.3 586.3L631.7 586.5L632.0 586.9L632.5 587.5L633.0 588.3L633.6 589.4L634.2 590.7L634.9 592.2L635.5 593.6L636.2 595.0L637.0 596.5L637.9 598.1L638.8 599.7L639.6 601.2L640.5 602.6L641.2 603.8L641.9 604.6L642.5 605.2L643.1 605.6L643.7 605.9L644.3 606.1L645.0 606.2L645.7 606.3L646.5 606.3L647.3 606.2L648.1 605.9L649.0 605.5L650.0 605.0L651.1 604.2L652.3 603.2L653.6 602.1L654.9 600.9L656.2 599.8L657.5 598.8L658.8 597.8L660.0 596.9L661.2 596.1L662.5 595.3L663.8 594.5L665.0 593.8L666.2 593.0L667.4 592.2L668.6 591.5L669.8 590.8L671.1 590.3L672.5 590.0L674.0 589.9L675.6 590.0L677.3 590.2L679.1 590.6L680.8 590.9L682.5 591.2L684.1 591.6L685.6 592.0L687.1 592.5L688.7 593.0L690.5 593.4L692.5 593.8L695.0 594.0L697.9 594.3L700.9 594.5L703.9 594.6L706.6 594.8L708.8 595.0L710.2 595.1L711.2 595.2L711.9 595.2L712.4 595.4L713.0 595.7L713.8 596.2L714.7 597.1L715.6 598.3L716.6 599.6L717.6 601.0L718.7 602.4L720.0 603.8L721.4 605.1L723.0 606.5L724.6 607.9L726.3 609.2L728.1 610.4L730.0 611.2L731.9 611.9L734.0 612.3L736.1 612.6L738.2 612.7L740.4 612.7L742.5 612.5L744.6 612.2L746.9 611.7L749.1 611.0L751.2 610.3L753.2 609.5L755.0 608.8L756.5 608.0L757.9 607.3L759.1 606.6L760.2 605.7L761.3 604.8L762.5 603.8L763.8 602.5L765.1 601.0L766.4 599.5L767.7 597.9L768.9 596.4L770.0 595.0L771.0 593.8L771.9 592.5L772.7 591.4L773.4 590.4L774.2 589.5L775.0 588.8L775.8 588.2L776.7 587.8L777.5 587.6L778.3 587.5L779.2 587.4L780.0 587.5L780.8 587.8L781.7 588.4L782.6 589.1L783.4 589.7L784.2 590.0L785.0 590.0L785.7 589.5L786.3 588.7L787.0 587.7L787.5 586.4L788.1 585.1L788.8 583.8L789.4 582.3L790.0 580.7L790.6 579.0L791.2 577.2L791.9 575.5L792.5 573.8L793.1 572.1L793.8 570.3L794.4 568.6L795.0 566.9L795.6 565.3L796.2 563.8L796.8 562.4L797.3 561.3L797.7 560.2L798.3 559.1L799.0 557.8L800.0 556.2L801.4 554.2L803.0 551.9L804.9 549.4L806.8 546.9L808.5 544.5L810.0 542.5L811.2 540.8L812.4 539.3L813.4 537.9L814.2 536.7L815.0 535.7L815.5 535.0" stroke="#000" stroke-width="3.125" fill="none" stroke-linejoin="round" stroke-linecap="square"/>
<path d="M817.5 534.4L818.2 530.7L819.2 525.5L820.3 519.4L821.6 512.8L822.8 506.2L824.0 500.0L825.1 494.8L826.1 490.2L827.1 485.7L828.2 480.4L829.3 473.7L830.6 465.0L832.1 453.8L833.7 440.6L835.4 425.9L837.1 410.6L838.8 395.0L840.3 380.0L841.7 365.3L843.1 350.4L844.5 335.3L845.8 320.2L847.0 305.1L848.1 290.0L849.1 274.9L850.0 259.8L850.8 244.7L851.5 229.6L852.3 214.7L853.0 200.0L853.7 185.6L854.4 171.6L855.0 157.6L855.6 143.7L856.3 129.5L856.9 115.0L857.6 99.0L858.4 81.4L859.1 63.7L859.9 47.1L860.5 33.1L860.9 23.0" stroke="#f00" stroke-width="3.125" fill="none" stroke-linejoin="round" stroke-linecap="square"/>
<path d="M817.5 534.4L825.0 531.6L830.0 530.0L842.5 525.0L848.0 522.0L850.5 520.3L855.0 514.2L856.3 513.1L857.8 512.6L860.5 512.6L862.0 513.2L863.5 514.4L866.0 516.6L867.5 517.3L876.7 519.2L888.3 521.8L891.5 522.8L893.5 524.0L900.0 527.5" stroke="#f00" stroke-width="3.125" fill="none" stroke-linejoin="round" stroke-linecap="square"/>
<path d="M257.2 616.6L268.5 611.8L277.8 607.2L283.1 604.7L287.2 601.6L292.0 598.3L296.8 594.8" stroke="#ffb1b1" stroke-width="3.125" fill="none" stroke-dasharray="11.56 5"/>
<path d="M257.2 616.6L274.0 616.4L285.6 616.4L298.9 615.6" stroke="#ffb1b1" stroke-width="3.125" fill="none" stroke-dasharray="11.56 5"/>
<path d="M257.2 616.6L268.5 620.3L273.1 621.2L284.7 623.4L289.7 624.4L298.9 625.6" stroke="#ffb1b1" stroke-width="3.125" fill="none" stroke-dasharray="11.56 5"/>
</g>
<rect x="108" y="23" width="830" height="610" fill="none" stroke="#111" stroke-width="2"/>
<g stroke="#111" stroke-width="2">
<path d="M125 633v7"/>
<path d="M206 633v7"/>
<path d="M288 633v7"/>
<path d="M371 633v7"/>
<path d="M453 633v7"/>
<path d="M535 633v7"/>
<path d="M614 633v7"/>
<path d="M696 633v7"/>
<path d="M778 633v7"/>
<path d="M861 633v7"/>
<path d="M108 633h-7"/>
<path d="M108 533h-7"/>
<path d="M108 433h-7"/>
<path d="M108 333h-7"/>
<path d="M108 233h-7"/>
<path d="M108 134h-7"/>
<path d="M108 34h-7"/>
</g>
<g font-size="20.3">
<text x="125.00" y="661.90" text-anchor="middle">2020/3/1</text>
<text x="206.00" y="661.90" text-anchor="middle">5/1</text>
<text x="288.00" y="661.90" text-anchor="middle">7/1</text>
<text x="371.00" y="661.90" text-anchor="middle">9/1</text>
<text x="453.00" y="661.90" text-anchor="middle">11/1</text>
<text x="535.00" y="661.90" text-anchor="middle">2021/1/1</text>
<text x="614.00" y="661.90" text-anchor="middle">3/1</text>
<text x="696.00" y="661.90" text-anchor="middle">5/1</text>
<text x="778.00" y="661.90" text-anchor="middle">7/1</text>
<text x="861.00" y="661.90" text-anchor="middle">9/1</text>
<text x="93.70" y="639.80" text-anchor="end">0</text>
<text x="93.70" y="539.80" text-anchor="end">1000</text>
<text x="93.70" y="439.80" text-anchor="end">2000</text>
<text x="93.70" y="339.80" text-anchor="end">3000</text>
<text x="93.70" y="239.80" text-anchor="end">4000</text>
<text x="93.70" y="140.80" text-anchor="end">5000</text>
<text x="93.70" y="40.80" text-anchor="end">6000</text>
<text x="523" y="689.5" text-anchor="middle">Date</text>
</g>
<text transform="translate(38.5 328) rotate(-90)" text-anchor="middle" font-size="20.83">Daily New Cases</text>
<text x="796.8" y="171" font-size="41.7">NV</text>
<!--LEGEND-->
<rect x="119.25" y="33.25" width="385" height="157.5" rx="4.2" ry="4.2" fill="#fff" fill-opacity="0.8" stroke="#ccc" stroke-opacity="0.8" stroke-width="2.08"/>
<circle cx="148.4" cy="49.6" r="4.17" fill="#f00"/>
<path d="M142.25 80H154.75M148.5 73.75V86.25" stroke="#000" stroke-width="2.08" fill="none"/>
<path d="M127.8 110.1H169.5" stroke="#000" stroke-width="3.125" stroke-linecap="square"/>
<circle cx="148.4" cy="140.7" r="4.17" fill="#f00"/>
<path d="M127.8 171.2H169.5" stroke="#f00" stroke-width="3.125" stroke-linecap="square"/>
<g font-size="20.83">
<text x="186.2" y="56.00">Projection</text>
<text x="186.2" y="86.45">Daily New Cases</text>
<text x="186.2" y="116.90">7-day Average</text>
<text x="186.2" y="147.35">95% Confidence Interval (Statistical)</text>
<text x="186.2" y="177.80">Projection Made on June 7</text>
</g>
</svg></body></html>
